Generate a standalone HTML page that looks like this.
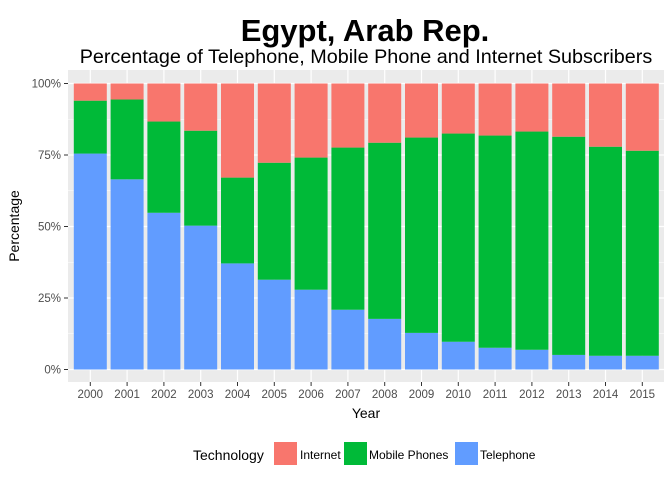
<!DOCTYPE html>
<html><head><meta charset="utf-8"><style>
body{margin:0;background:#fff;font-family:"Liberation Sans",Arial,sans-serif}
</style></head><body>
<svg id="chart" width="672" height="480" xmlns="http://www.w3.org/2000/svg" font-family="Liberation Sans, Arial, sans-serif">
<text x="365" y="41" text-anchor="middle" font-size="31" font-weight="bold" fill="#000">Egypt, Arab Rep.</text>
<text x="366" y="63" text-anchor="middle" font-size="19.8" fill="#000">Percentage of Telephone, Mobile Phone and Internet Subscribers</text>
<rect x="68" y="70" width="596" height="312" fill="#ebebeb"/>
<g id="grid"></g>
<g id="bars"></g>
<g id="axes"></g>
<text x="366" y="418" text-anchor="middle" font-size="14" fill="#000">Year</text>
<text transform="translate(19,226) rotate(-90)" text-anchor="middle" font-size="14" fill="#000">Percentage</text>
<g>
<text x="193" y="460" font-size="14" fill="#000">Technology</text>
<rect x="274" y="442" width="23" height="23" fill="#f8766d"/>
<text x="300" y="459" font-size="12" fill="#000">Internet</text>
<rect x="344" y="442" width="23" height="23" fill="#00ba38"/>
<text x="369" y="459" font-size="12" fill="#000">Mobile Phones</text>
<rect x="455" y="442" width="23" height="23" fill="#619cff"/>
<text x="480" y="459" font-size="12" fill="#000">Telephone</text>
</g>
</svg>
<script>
const years = ["2000","2001","2002","2003","2004","2005","2006","2007","2008","2009","2010","2011","2012","2013","2014","2015"];
const telephone = [75.5,66.5,54.8,50.3,37.1,31.4,27.9,20.9,17.7,12.8,9.7,7.6,6.9,5.1,4.8,4.8];
const mobile = [18.5,27.9,31.9,33.2,30.0,40.9,46.2,56.7,61.6,68.3,72.8,74.2,76.3,76.3,73.1,71.7];
const internet = [6.0,5.6,13.3,16.5,32.9,27.7,25.9,22.4,20.7,18.9,17.5,18.2,16.8,18.6,22.1,23.5];
const yTicks = [0,25,50,75,100];
const yTickLabels = ["0%","25%","50%","75%","100%"];

const NS="http://www.w3.org/2000/svg";
const y0=369.5, y100=83.5;
const yS=v=>y0-(v/100)*(y0-y100);
const xS=i=>90.3+i*36.8;
const bw=33;
function mk(tag,attrs,parent){const e=document.createElementNS(NS,tag);for(const k in attrs)e.setAttribute(k,attrs[k]);document.getElementById(parent).appendChild(e);return e;}
for(let i=0;i<yTicks.length-1;i++){
  const m=mk('line',{x1:68,x2:664,y1:yS((yTicks[i]+yTicks[i+1])/2),y2:yS((yTicks[i]+yTicks[i+1])/2),stroke:'#fff','stroke-width':0.6},'grid');
  
  
}
yTicks.forEach((t,i)=>{
  const g=mk('line',{x1:68,x2:664,y1:yS(t),y2:yS(t),stroke:'#fff','stroke-width':1.2},'grid');
  
  
  const tk=mk('line',{x1:64,x2:68,y1:yS(t),y2:yS(t),stroke:'#333','stroke-width':1},'axes');
  
  
  const lb=mk('text',{x:61,y:yS(t)+4,'text-anchor':'end','font-size':11.5,fill:'#4d4d4d'},'axes');
  
  
  lb.textContent=yTickLabels[i];
});
years.forEach((yr,i)=>{
  const x=xS(i);
  const g=mk('line',{x1:x,x2:x,y1:70,y2:382,stroke:'#fff','stroke-width':1.2},'grid');
  
  
  const segs=[[0,telephone[i],'#619cff','bar-telephone'],[telephone[i],telephone[i]+mobile[i],'#00ba38','bar-mobile'],[telephone[i]+mobile[i],telephone[i]+mobile[i]+internet[i],'#f8766d','bar-internet']];
  segs.forEach(s=>{
    const r=mk('rect',{x:x-bw/2,y:yS(s[1]),width:bw,height:yS(s[0])-yS(s[1]),fill:s[2]},'bars');
    
    
  });
  const tk=mk('line',{x1:x,x2:x,y1:382,y2:386,stroke:'#333','stroke-width':1},'axes');
  
  
  const lb=mk('text',{x:x,y:398,'text-anchor':'middle','font-size':11.5,fill:'#4d4d4d'},'axes');
  
  
  lb.textContent=yr;
});
</script>
</body></html>
